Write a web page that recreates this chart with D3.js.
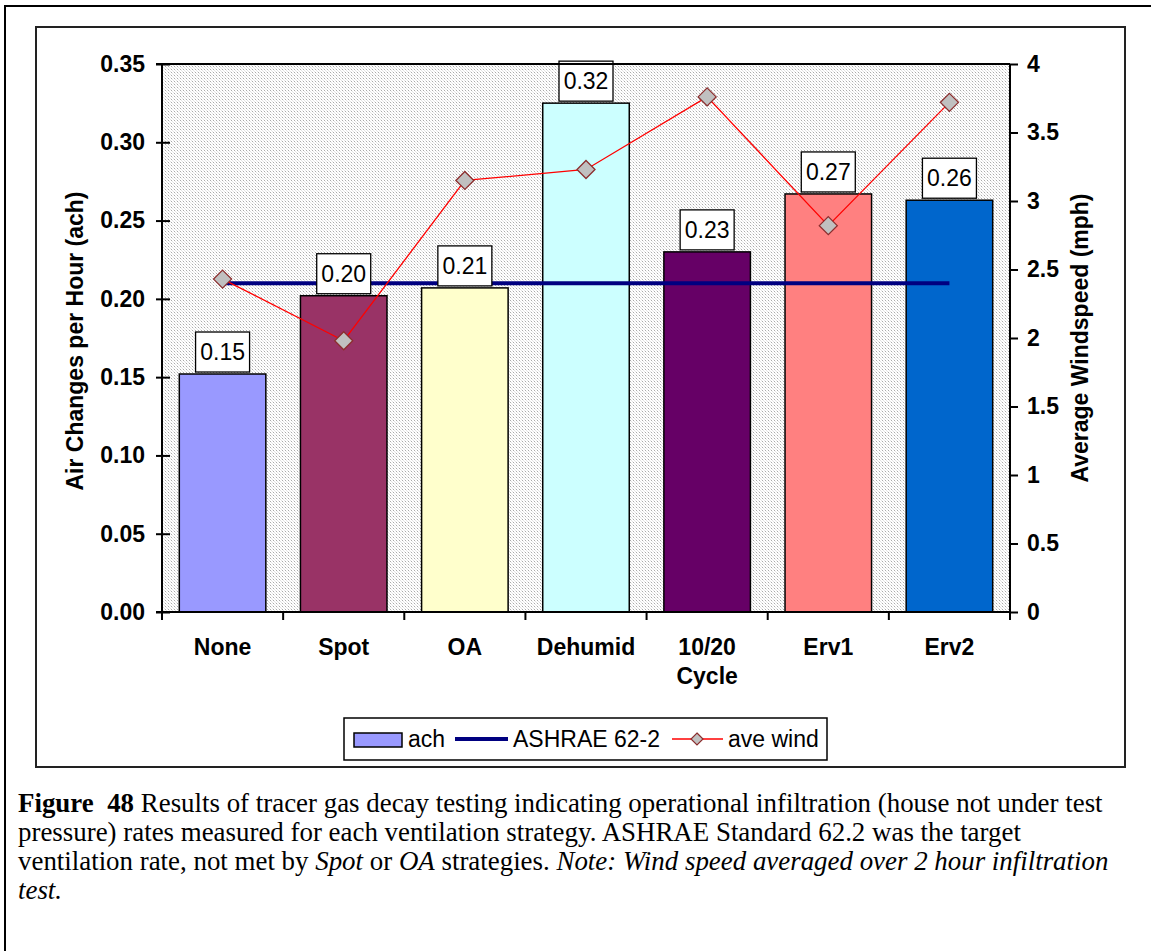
<!DOCTYPE html>
<html>
<head>
<meta charset="utf-8">
<script src="https://cdn.jsdelivr.net/npm/d3@7"></script>
<style>
  html, body { margin: 0; padding: 0; background: #fff; }
  svg { display: block; }
</style>
</head>
<body>
<script>
// Ventilation strategies tested
const categories = ["None", "Spot", "OA", "Dehumid", "10/20\nCycle", "Erv1", "Erv2"];
// Measured air changes per hour (ach)
const achValues = [0.152, 0.202, 0.207, 0.325, 0.230, 0.267, 0.263];
// Labels printed above each bar
const achLabels = ["0.15", "0.20", "0.21", "0.32", "0.23", "0.27", "0.26"];
// Average windspeed during each test (mph)
const windValues = [2.43, 1.98, 3.15, 3.23, 3.76, 2.82, 3.72];
// ASHRAE 62.2 target rate (ach)
const ashraeValue = 0.21;
// Bar fills, one per strategy
const barColors = ["#9999FF", "#993366", "#FFFFCC", "#CCFFFF", "#660066", "#FF8080", "#0066CC"];
const leftTicks = [0, 0.05, 0.10, 0.15, 0.20, 0.25, 0.30, 0.35];
const rightTicks = [0, 0.5, 1, 1.5, 2, 2.5, 3, 3.5, 4];

const W = 1151, H = 951;
const plot = { left: 162, top: 64, right: 1010, bottom: 612 };
const FONT = "'Liberation Sans', Arial, sans-serif";
const SERIF = "'Liberation Serif', 'Times New Roman', serif";

const svg = d3.select("body").append("svg").attr("width", W).attr("height", H);

// dotted plot-area fill
const defs = svg.append("defs");
const pat = defs.append("pattern").attr("id", "dots").attr("patternUnits", "userSpaceOnUse")
  .attr("width", 3).attr("height", 3);
pat.append("rect").attr("width", 3).attr("height", 3).attr("fill", "#ffffff");
pat.append("rect").attr("x", 0).attr("y", 0).attr("width", 1).attr("height", 1).attr("fill", "#aaaaaa");
pat.append("rect").attr("x", 1).attr("y", 1).attr("width", 1).attr("height", 1).attr("fill", "#e2e2e2");
pat.append("rect").attr("x", 2).attr("y", 2).attr("width", 1).attr("height", 1).attr("fill", "#e2e2e2");

// outer figure frame
svg.append("rect").attr("x", 5).attr("y", 6).attr("width", 1300).attr("height", 1100)
  .attr("fill", "none").attr("stroke", "#000").attr("stroke-width", 2);

// chart area frame
svg.append("rect").attr("x", 36).attr("y", 27).attr("width", 1089).attr("height", 740)
  .attr("fill", "#fff").attr("stroke", "#222").attr("stroke-width", 2);

const x = d3.scaleBand().domain(categories)
  .range([plot.left, plot.right])
  .paddingInner(0.4 / 1.4).paddingOuter(0.2 / 1.4);
const yL = d3.scaleLinear().domain([0, 0.35]).range([plot.bottom, plot.top]);
const yR = d3.scaleLinear().domain([0, 4]).range([plot.bottom, plot.top]);

svg.append("rect").attr("x", plot.left).attr("y", plot.top)
  .attr("width", plot.right - plot.left).attr("height", plot.bottom - plot.top)
  .attr("fill", "url(#dots)");

// bars
svg.append("g").selectAll("rect").data(categories).join("rect")
  .attr("x", d => x(d))
  .attr("y", (d, i) => yL(achValues[i]))
  .attr("width", x.bandwidth())
  .attr("height", (d, i) => yL(0) - yL(achValues[i]))
  .attr("fill", (d, i) => barColors[i])
  .attr("stroke", "#000").attr("stroke-width", 1.5);

// ASHRAE 62.2 target line
const cx = d => x(d) + x.bandwidth() / 2;
svg.append("line")
  .attr("x1", cx(categories[0])).attr("x2", cx(categories[categories.length - 1]))
  .attr("y1", yL(ashraeValue)).attr("y2", yL(ashraeValue))
  .attr("stroke", "#000080").attr("stroke-width", 4);

// average wind line with diamond markers
const windLine = d3.line().x((d, i) => cx(categories[i])).y(d => yR(d));
svg.append("path").datum(windValues).attr("d", windLine)
  .attr("fill", "none").attr("stroke", "#FF0000").attr("stroke-width", 1.3);
const diamond = (s) => `M0,${-s}L${s},0L0,${s}L${-s},0Z`;
svg.append("g").selectAll("path").data(windValues).join("path")
  .attr("transform", (d, i) => `translate(${cx(categories[i])},${yR(d)})`)
  .attr("d", diamond(9))
  .attr("fill", "#C0C0C0").attr("stroke", "#8B2E2E").attr("stroke-width", 1.3);

// value label boxes
const lab = svg.append("g").selectAll("g").data(categories).join("g")
  .attr("transform", (d, i) => `translate(${cx(d)},${yL(achValues[i]) - 2})`);
lab.append("rect").attr("x", -27).attr("y", -40).attr("width", 54).attr("height", 40)
  .attr("fill", "#fff").attr("stroke", "#000").attr("stroke-width", 1.3);
lab.append("text").attr("x", 0).attr("y", -12).attr("text-anchor", "middle")
  .attr("font-family", FONT).attr("font-size", 23).attr("fill", "#000")
  .text((d, i) => achLabels[i]);

// top border of the plot
svg.append("line").attr("x1", plot.left - 6).attr("x2", plot.right)
  .attr("y1", plot.top).attr("y2", plot.top).attr("stroke", "#000").attr("stroke-width", 2);

// left axis
const gL = svg.append("g").attr("transform", `translate(${plot.left},0)`)
  .call(d3.axisLeft(yL).tickValues(leftTicks).tickFormat(d3.format(".2f")).tickSize(6).tickPadding(11));
gL.select(".domain").attr("stroke", "#000").attr("stroke-width", 2).attr("d", `M0,${plot.top}V${plot.bottom}`);
gL.selectAll(".tick line").attr("x1", 8).attr("x2", -6).attr("stroke", "#000").attr("stroke-width", 2);
gL.selectAll(".tick text").attr("font-family", FONT).attr("font-size", 23).attr("font-weight", "bold").attr("fill", "#000");

// right axis
const gR = svg.append("g").attr("transform", `translate(${plot.right},0)`)
  .call(d3.axisRight(yR).tickValues(rightTicks).tickFormat(d3.format("~g")).tickSize(8).tickPadding(9));
gR.select(".domain").attr("stroke", "#000").attr("stroke-width", 2).attr("d", `M0,${plot.top}V${plot.bottom}`);
gR.selectAll(".tick line").attr("stroke", "#000").attr("stroke-width", 2);
gR.selectAll(".tick text").attr("font-family", FONT).attr("font-size", 23).attr("font-weight", "bold").attr("fill", "#000");

// bottom axis: ticks at category boundaries
const boundaries = categories.map(d => x(d) - x.step() * x.paddingInner() / 2).concat([plot.right]);
const gB = svg.append("g");
gB.append("line").attr("x1", plot.left - 6).attr("x2", plot.right)
  .attr("y1", plot.bottom).attr("y2", plot.bottom).attr("stroke", "#000").attr("stroke-width", 2);
gB.selectAll("line.tk").data(boundaries).join("line").attr("class", "tk")
  .attr("x1", d => d).attr("x2", d => d).attr("y1", plot.bottom).attr("y2", plot.bottom + 8)
  .attr("stroke", "#000").attr("stroke-width", 2);
const xl = gB.selectAll("text").data(categories).join("text")
  .attr("x", d => cx(d)).attr("y", 655).attr("text-anchor", "middle")
  .attr("font-family", FONT).attr("font-size", 23).attr("font-weight", "bold").attr("fill", "#000");
xl.each(function (d) {
  const parts = d.split("\n");
  d3.select(this).selectAll("tspan").data(parts).join("tspan")
    .attr("x", cx(d)).attr("dy", (p, i) => i === 0 ? 0 : 29).text(p => p);
});

// axis titles
svg.append("text").attr("transform", `translate(83,${(plot.top + plot.bottom) / 2 + 3}) rotate(-90)`)
  .attr("text-anchor", "middle").attr("font-family", FONT).attr("font-size", 23)
  .attr("font-weight", "bold").attr("fill", "#000").text("Air Changes per Hour (ach)");
svg.append("text").attr("transform", `translate(1088,${(plot.top + plot.bottom) / 2}) rotate(-90)`)
  .attr("text-anchor", "middle").attr("font-family", FONT).attr("font-size", 23)
  .attr("font-weight", "bold").attr("fill", "#000").text("Average Windspeed (mph)");

// legend
const lg = svg.append("g");
lg.append("rect").attr("x", 344).attr("y", 718).attr("width", 483).attr("height", 42)
  .attr("fill", "#fff").attr("stroke", "#000").attr("stroke-width", 1.5);
lg.append("rect").attr("x", 354).attr("y", 733).attr("width", 48).attr("height", 14)
  .attr("fill", barColors[0]).attr("stroke", "#000").attr("stroke-width", 1.5);
lg.append("line").attr("x1", 455).attr("x2", 508).attr("y1", 739).attr("y2", 739)
  .attr("stroke", "#000080").attr("stroke-width", 4);
lg.append("line").attr("x1", 672).attr("x2", 723).attr("y1", 739).attr("y2", 739)
  .attr("stroke", "#FF0000").attr("stroke-width", 1.3);
lg.append("path").attr("transform", "translate(697,739)").attr("d", diamond(6))
  .attr("fill", "#C0C0C0").attr("stroke", "#8B2E2E").attr("stroke-width", 1.2);
const legendItems = [["ach", 408], ["ASHRAE 62-2", 513], ["ave wind", 728]];
lg.selectAll("text").data(legendItems).join("text")
  .attr("x", d => d[1]).attr("y", 747)
  .attr("font-family", FONT).attr("font-size", 23).attr("fill", "#000").text(d => d[0]);

// caption
const capLines = [
  [["Figure  48", "bold"], [" Results of tracer gas decay testing indicating operational infiltration (house not under test", ""]],
  [["pressure) rates measured for each ventilation strategy. ASHRAE Standard 62.2 was the target", ""]],
  [["ventilation rate, not met by ", ""], ["Spot", "italic"], [" or ", ""], ["OA", "italic"], [" strategies. ", ""], ["Note: Wind speed averaged over 2 hour infiltration", "italic"]],
  [["test.", "italic"]]
];
const cap = svg.append("g");
capLines.forEach((line, li) => {
  const t = cap.append("text").attr("x", 18).attr("y", 812 + li * 29)
    .attr("font-family", SERIF).attr("font-size", 26.9).attr("fill", "#000")
    .attr("xml:space", "preserve").style("white-space", "pre");
  line.forEach(([s, st]) => {
    t.append("tspan").text(s)
      .attr("font-weight", st === "bold" ? "bold" : null)
      .attr("font-style", st === "italic" ? "italic" : null);
  });
});
</script>
</body>
</html>
